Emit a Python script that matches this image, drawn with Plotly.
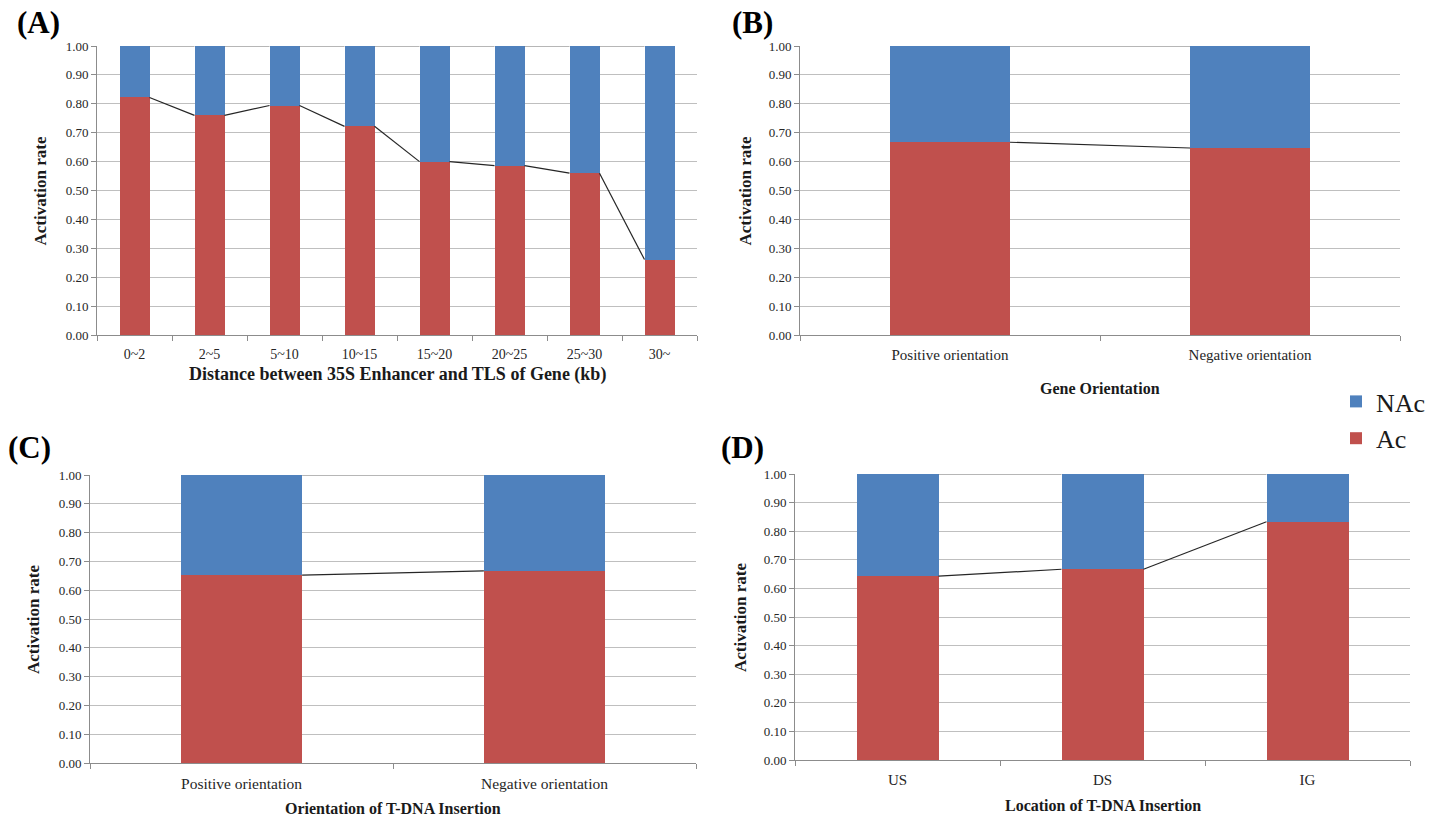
import plotly.graph_objects as go

# ---- data ----------------------------------------------------------------
dist_labels = ["0~2", "2~5", "5~10", "10~15", "15~20", "20~25", "25~30", "30~"]
dist_ac = [0.822, 0.760, 0.794, 0.722, 0.600, 0.586, 0.560, 0.261]
dist_nac = [0.178, 0.240, 0.206, 0.278, 0.400, 0.414, 0.440, 0.739]

gene_orient_labels = ["Positive orientation", "Negative orientation"]
gene_orient_ac = [0.667, 0.647]
gene_orient_nac = [0.333, 0.353]

tdna_orient_labels = ["Positive orientation", "Negative orientation"]
tdna_orient_ac = [0.652, 0.667]
tdna_orient_nac = [0.348, 0.333]

location_labels = ["US", "DS", "IG"]
location_ac = [0.643, 0.667, 0.833]
location_nac = [0.357, 0.333, 0.167]

x_titles = [
    "Distance between 35S Enhancer and TLS of Gene (kb)",
    "Gene Orientation",
    "Orientation of T-DNA Insertion",
    "Location of T-DNA Insertion",
]
panel_tags = ["(A)", "(B)", "(C)", "(D)"]

# ---- styling --------------------------------------------------------------
W, H = 1442, 826
AC_COLOR = "#C0504D"
NAC_COLOR = "#4F81BD"
GRID = "#BFBFBF"
AXIS = "#8C8C8C"
SERIF = "Liberation Serif"
BAR_W = 0.4

# plot-area boxes in pixels: (left, right, top, bottom)
boxes = [
    (97, 697, 46, 335),
    (800, 1400, 46, 335),
    (90, 696, 475, 763),
    (795, 1410, 474, 760),
]
# axis title centre y, y-title centre x, panel tag position
x_title_y = [375, 388, 808, 805]
x_title_size = [18, 16, 16, 16]
x_tick_size = [14, 15, 15.5, 15]
y_title_x = [40, 745, 33, 740]
tag_pos = [(38, 22), (752, 22), (29, 447), (742, 447)]

panels = [
    (dist_labels, dist_ac, dist_nac),
    (gene_orient_labels, gene_orient_ac, gene_orient_nac),
    (tdna_orient_labels, tdna_orient_ac, tdna_orient_nac),
    (location_labels, location_ac, location_nac),
]


def px_x(v):
    return v / W


def px_y(v):
    return 1 - v / H


fig = go.Figure()
annotations = []

for k, (labels, ac, nac) in enumerate(panels):
    suffix = "" if k == 0 else str(k + 1)
    xa, ya = "x" + suffix, "y" + suffix
    idx = list(range(len(labels)))

    fig.add_trace(go.Bar(
        x=idx, y=ac, width=BAR_W, name="Ac", marker_color=AC_COLOR,
        marker_line_width=0, xaxis=xa, yaxis=ya, showlegend=(k == 0),
        legendrank=2, hoverinfo="skip",
    ))
    fig.add_trace(go.Bar(
        x=idx, y=nac, width=BAR_W, name="NAc", marker_color=NAC_COLOR,
        marker_line_width=0, xaxis=xa, yaxis=ya, showlegend=(k == 0),
        legendrank=1, hoverinfo="skip",
    ))

    # series lines joining neighbouring bar edges
    tops = [a + n for a, n in zip(ac, nac)]
    lx, ly, tx, ty = [], [], [], []
    for i in idx[:-1]:
        lx += [i + BAR_W / 2, i + 1 - BAR_W / 2, None]
        ly += [ac[i], ac[i + 1], None]
        tx += [i + BAR_W / 2, i + 1 - BAR_W / 2, None]
        ty += [tops[i], tops[i + 1], None]
    fig.add_trace(go.Scatter(
        x=tx, y=ty, mode="lines", line=dict(color="#6E6E6E", width=1.2),
        xaxis=xa, yaxis=ya, showlegend=False, hoverinfo="skip",
    ))
    fig.add_trace(go.Scatter(
        x=lx, y=ly, mode="lines", line=dict(color="#262626", width=1.2),
        xaxis=xa, yaxis=ya, showlegend=False, hoverinfo="skip",
    ))

    left, right, top, bottom = boxes[k]
    n = len(labels)
    fig.update_layout(**{
        "xaxis" + suffix: dict(
            domain=[px_x(left), px_x(right)],
            anchor=ya, automargin=False,
            range=[-0.5, n - 0.5],
            tickmode="array", tickvals=idx, ticktext=labels,
            ticks="", showgrid=False, zeroline=False,
            showline=True, linecolor=AXIS, linewidth=1,
            tickfont=dict(family=SERIF, size=x_tick_size[k], color="#262626"),
            ticklabelstandoff=6,
            minor=dict(tickmode="array", tickvals=[i - 0.5 for i in range(n + 1)],
                       ticks="outside", ticklen=5, tickcolor=AXIS, tickwidth=1,
                       showgrid=False),
            fixedrange=True,
        ),
        "yaxis" + suffix: dict(
            domain=[px_y(bottom), px_y(top)],
            anchor=xa, automargin=False,
            range=[0, 1], tickmode="linear", tick0=0, dtick=0.1,
            tickformat=".2f",
            showgrid=True, gridcolor=GRID, gridwidth=1.4,
            zeroline=False, showline=True, linecolor=AXIS, linewidth=1,
            ticks="outside", ticklen=5, tickcolor=AXIS,
            tickfont=dict(family=SERIF, size=13, color="#262626"),
            fixedrange=True,
        ),
    })

    annotations.append(dict(
        text="<b>%s</b>" % x_titles[k], x=px_x((left + right) / 2), y=px_y(x_title_y[k]),
        xref="paper", yref="paper", showarrow=False, xanchor="center", yanchor="middle",
        font=dict(family=SERIF, size=x_title_size[k], color="#1a1a1a"),
    ))
    annotations.append(dict(
        text="<b>Activation rate</b>", x=px_x(y_title_x[k]), y=px_y((top + bottom) / 2),
        xref="paper", yref="paper", showarrow=False, xanchor="center", yanchor="middle",
        textangle=-90, font=dict(family=SERIF, size=17, color="#1a1a1a"),
    ))
    annotations.append(dict(
        text="<b>%s</b>" % panel_tags[k], x=px_x(tag_pos[k][0]), y=px_y(tag_pos[k][1]),
        xref="paper", yref="paper", showarrow=False, xanchor="center", yanchor="middle",
        font=dict(family=SERIF, size=31, color="#000000"),
    ))

fig.update_layout(
    template="none",
    width=W, height=H,
    margin=dict(l=0, r=0, t=0, b=0, pad=0, autoexpand=False),
    font=dict(family=SERIF, color="#262626"),
    paper_bgcolor="white", plot_bgcolor="white",
    barmode="stack", bargap=0,
    annotations=annotations,
    showlegend=True,
    legend=dict(
        x=px_x(1336), y=px_y(378), xanchor="left", yanchor="top",
        traceorder="normal",
        font=dict(family=SERIF, size=26, color="#1a1a1a"),
        bgcolor="rgba(0,0,0,0)", itemwidth=30, tracegroupgap=0,
    ),
)

fig.write_html("out.html")
